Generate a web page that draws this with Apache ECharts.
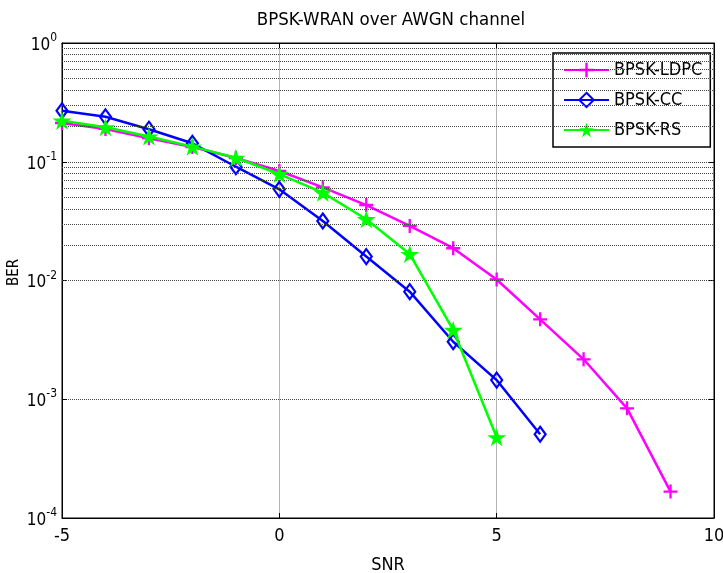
<!DOCTYPE html>
<html>
<head>
<meta charset="utf-8">
<script src="https://cdn.jsdelivr.net/npm/echarts@6/dist/echarts.min.js"></script>
<style>html,body{margin:0;padding:0;background:#fff}#c{width:723px;height:573px}</style>
</head>
<body>
<div id="c"></div>
<script>
const snrLDPC = [-5,-4,-3,-2,-1,0,1,2,3,4,5,6,7,8,9];
const berLDPC = [0.212,0.189,0.158,0.133,0.1075,0.0836,0.0609,0.0432,0.0288,0.0187,0.0102,0.00471,0.00217,0.000838,0.000167];
const snrCC = [-5,-4,-3,-2,-1,0,1,2,3,4,5,6];
const berCC = [0.269,0.239,0.188,0.143,0.0908,0.0586,0.0317,0.0159,0.00805,0.00305,0.00145,0.000507];
const snrRS = [-5,-4,-3,-2,-1,0,1,2,3,4,5];
const berRS = [0.222,0.195,0.163,0.134,0.108,0.0788,0.0549,0.0328,0.0167,0.00383,0.000478];
const seriesNames = ['BPSK-LDPC','BPSK-CC','BPSK-RS'];
const minorGridValues = [];
[1e-4,1e-3,1e-2,1e-1].forEach(d => { for (let k = 2; k <= 9; k++) minorGridValues.push(+(k*d).toPrecision(3)); });
const titleText = 'BPSK-WRAN over AWGN channel';
const xName = 'SNR', yName = 'BER';

const FONT = "'Liberation Sans Narrow','DejaVu Sans Condensed','Liberation Sans',Arial,sans-serif";
const pair = (xs, ys) => xs.map((x,i)=>[x, ys[i]]);

const plusPath = 'path://M5,0H7V5H12V7H7V12H5V7H0V5H5Z';
const starPath = 'path://M10,0L12.245,6.91L19.511,6.91L13.633,11.18L15.878,18.09L10,13.82L4.122,18.09L6.367,11.18L0.489,6.91L7.755,6.91Z';
const diamondPath = 'path://M5,0L10,7L5,14L0,7Z';

const chart = echarts.init(document.getElementById('c'));
chart.setOption({
  backgroundColor: '#fff',
  animation: false,
  title: {
    text: titleText, left: 386, top: 6, textAlign: 'center',
    textStyle: { fontFamily: FONT, fontSize: 18.5, fontWeight: 'normal', color: '#000' }
  },
  legend: {
    orient: 'vertical', left: 553, top: 53,
    padding: [8, 8, 8, 10], itemGap: 12, itemWidth: 45, itemHeight: 18,
    backgroundColor: '#fff', borderColor: '#000', borderWidth: 1.5,
    textStyle: { fontFamily: FONT, fontSize: 18, color: '#000' },
    data: seriesNames
  },
  grid: { left: 62, right: 9, top: 43, bottom: 55, show: true, borderColor: '#000', borderWidth: 1,
          containLabel: false, outerBoundsMode: 'none' },
  xAxis: [{
    type: 'value', min: -5, max: 10, interval: 5,
    name: xName, nameLocation: 'middle', nameGap: 38, nameMoveOverlap: false,
    nameTextStyle: { fontFamily: FONT, fontSize: 18, color: '#000' },
    axisLine: { onZero: false, lineStyle: { color: '#000', width: 1 } },
    axisTick: { inside: true, length: 5, lineStyle: { color: '#000' } },
    axisLabel: { fontFamily: FONT, fontSize: 18, color: '#000', margin: 9 },
    splitLine: { show: true, lineStyle: { color: '#b4b4b4', width: 1 } }
  }, {
    type: 'value', min: -5, max: 10, interval: 5, position: 'top',
    axisLine: { show: true, onZero: false, lineStyle: { color: '#000' } },
    axisTick: { inside: true, length: 5, lineStyle: { color: '#000' } },
    axisLabel: { show: false }, splitLine: { show: false }
  }],
  yAxis: [{
    type: 'log', logBase: 10, min: 1e-4, max: 1,
    name: yName, nameLocation: 'middle', nameGap: 40, nameRotate: 90, nameMoveOverlap: false,
    nameTextStyle: { fontFamily: FONT, fontSize: 15, color: '#000', padding: [0, 0, 0, 16] },
    axisLine: { show: true, onZero: false, lineStyle: { color: '#000', width: 1 } },
    axisTick: { inside: true, length: 5, lineStyle: { color: '#000' } },
    axisLabel: {
      margin: 5,
      formatter: v => '{b|10}{s|' + Math.round(Math.log10(v)) + '}',
      rich: {
        b: { fontFamily: FONT, fontSize: 17, color: '#000', lineHeight: 22, verticalAlign: 'bottom' },
        s: { fontFamily: FONT, fontSize: 12, color: '#000', lineHeight: 22, verticalAlign: 'top' }
      }
    },
    splitLine: { show: true, lineStyle: { color: '#444', width: 1, type: 'dotted' } }
  }, {
    type: 'log', logBase: 10, min: 1e-4, max: 1, position: 'right',
    axisLine: { show: true, onZero: false, lineStyle: { color: '#000' } },
    axisTick: { inside: true, length: 5, lineStyle: { color: '#000' } },
    axisLabel: { show: false }, splitLine: { show: false }
  }],
  series: [{
    name: seriesNames[0], type: 'line', data: pair(snrLDPC, berLDPC),
    color: '#ff00ff', lineStyle: { color: '#ff00ff', width: 2.5 },
    symbol: plusPath, symbolSize: 14, symbolKeepAspect: true, showAllSymbol: true,
    itemStyle: { color: '#ff00ff' },
    markLine: {
      silent: true, symbol: 'none', label: { show: false },
      lineStyle: { color: '#444', width: 1, type: 'dotted' },
      data: minorGridValues.map(v => ({ yAxis: v }))
    },
    z: 3
  }, {
    name: seriesNames[1], type: 'line', data: pair(snrCC, berCC),
    color: '#0000ff', lineStyle: { color: '#0000ff', width: 2.5 },
    symbol: diamondPath, symbolSize: [11, 15], showAllSymbol: true,
    itemStyle: { color: 'rgba(255,255,255,0)', borderColor: '#0000ff', borderWidth: 2.2 },
    z: 4
  }, {
    name: seriesNames[2], type: 'line', data: pair(snrRS, berRS),
    color: '#00ff00', lineStyle: { color: '#00ff00', width: 2.5 },
    symbol: starPath, symbolSize: 19, symbolKeepAspect: true, showAllSymbol: true,
    itemStyle: { color: '#00ff00' },
    z: 5
  }]
});
</script>
</body>
</html>
